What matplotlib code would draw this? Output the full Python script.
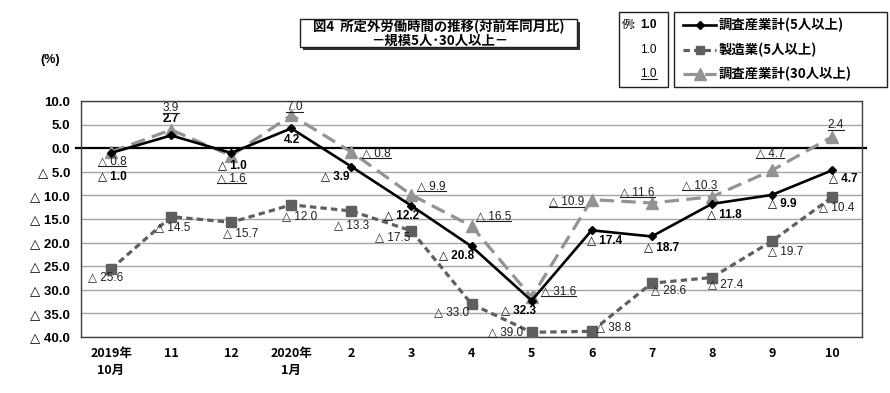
import matplotlib
matplotlib.use("Agg")
import matplotlib.pyplot as plt
from matplotlib.lines import Line2D
from matplotlib.patches import Rectangle
from matplotlib.transforms import IdentityTransform

# ---------------- data ----------------
months = ["2019年\n10月", "11", "12", "2020年\n1月", "2", "3", "4", "5", "6", "7", "8", "9", "10"]
total5 = [-1.0, 2.7, -1.0, 4.2, -3.9, -12.2, -20.8, -32.3, -17.4, -18.7, -11.8, -9.9, -4.7]
manuf5 = [-25.6, -14.5, -15.7, -12.0, -13.3, -17.5, -33.0, -39.0, -38.8, -28.6, -27.4, -19.7, -10.4]
total30 = [-0.8, 3.9, -1.6, 7.0, -0.8, -9.9, -16.5, -31.6, -10.9, -11.6, -10.3, -4.7, 2.4]
yticks = [10, 5, 0, -5, -10, -15, -20, -25, -30, -35, -40]
series_names = ["調査産業計(5人以上)", "製造業(5人以上)", "調査産業計(30人以上)"]
title1 = "図4  所定外労働時間の推移(対前年同月比)"
title2 = "－規模5人･30人以上－"

# label offsets in pixels (dx, dy) - layout only
off_total5 = [(1, -23), (0, 16), (1, -12), (1, -12), (-16, -10), (-10, -9), (-15, -9),
              (-13, -10), (13, -10), (10, -11), (13, -10), (10, -8), (11, -8)]
off_manuf5 = [(-5, -8), (2, -11), (9, -11), (8, -11), (0, -14), (-19, -6), (-20, -8),
              (-26, 0), (22, 4), (17, -7), (14, -7), (14, -10), (5, -10)]
off_total30 = [(1, -9), (0, 22), (0, -22), (3, 8), (25, -1), (20, 9), (22, 10),
               (27, 6), (-25, -2), (-14, 11), (-12, 12), (-2, 17), (4, 12)]

W, H = 890, 393
fig = plt.figure(figsize=(W / 100, H / 100), dpi=100)
fig.patch.set_facecolor("white")

JP = ["Noto Sans CJK JP", "DejaVu Sans"]
SANS = ["Liberation Sans", "DejaVu Sans"]
NARROW = ["Liberation Sans Narrow", "Liberation Sans", "DejaVu Sans"]

def fx(px):
    return px / W

def fy(py):
    return 1 - py / H

ax = fig.add_axes([fx(81), fy(337), fx(862) - fx(81), fy(101) - fy(337)])
x = list(range(len(months)))

ax.set_xlim(-0.5, len(months) - 0.5)
ax.set_ylim(-40, 10)
ax.set_yticks(yticks)

def fmt(v):
    return f"△ {abs(v):.1f}" if v < 0 else f"{v:.1f}"

ax.set_yticklabels([fmt(v) for v in yticks], family=SANS, fontweight="bold", fontsize=9.5)
ax.set_xticks(x)
ax.set_xticklabels(months, family=JP, fontweight="bold", fontsize=9, linespacing=1.4,
                   va="top")
ax.tick_params(axis="both", length=0)
ax.tick_params(axis="y", pad=8)
ax.tick_params(axis="x", pad=7)

for v in yticks:
    if v != 0:
        ax.axhline(v, color="#a6a6a6", lw=1.0, zorder=1)
ax.axhline(0, xmin=-0.0065, xmax=1.005, color="black", lw=1.6, clip_on=False, zorder=2)
for s in ax.spines.values():
    s.set_color("#404040")
    s.set_linewidth(1.0)

c_tot = "black"
c_man = "#5f5f5f"
c_30 = "#939393"

ax.plot(x, manuf5, color=c_man, lw=2.3, dashes=(2.0, 1.3), marker="s", ms=6.5,
        mfc=c_man, mec=c_man, zorder=3)
ax.plot(x, total30, color=c_30, lw=2.3, dashes=(4.5, 2.3), marker="^", ms=8,
        mfc=c_30, mec=c_30, zorder=4)
ax.plot(x, total5, color=c_tot, lw=1.9, marker="D", ms=4.5, mfc=c_tot, mec=c_tot, zorder=5)

under_texts = []
for i in x:
    ax.annotate(fmt(total5[i]), (i, total5[i]), xytext=off_total5[i], textcoords="offset pixels",
                ha="center", va="center", fontsize=8.5, fontweight="bold", family=SANS, zorder=6)
    ax.annotate(fmt(manuf5[i]), (i, manuf5[i]), xytext=off_manuf5[i], textcoords="offset pixels",
                ha="center", va="center", fontsize=8.5, family=NARROW, color="#202020", zorder=6)
    t = ax.annotate(fmt(total30[i]), (i, total30[i]), xytext=off_total30[i], textcoords="offset pixels",
                    ha="center", va="center", fontsize=8.5, family=NARROW, color="#202020", zorder=6)
    under_texts.append(t)

# (%)
fig.text(fx(50), fy(60), "(%)", ha="center", va="center", fontsize=9, fontweight="bold", family=SANS)

# title box with shadow
fig.add_artist(Rectangle((fx(303), fy(50)), fx(577) - fx(300), fy(19) - fy(47),
                         transform=fig.transFigure, facecolor="#303030", edgecolor="none"))
fig.add_artist(Rectangle((fx(300), fy(47)), fx(577) - fx(300), fy(19) - fy(47),
                         transform=fig.transFigure, facecolor="white", edgecolor="#202020", lw=1))
fig.text(fx(439), fy(27), title1, ha="center", va="center", fontsize=9.6, fontweight="bold", family=JP)
fig.text(fx(440), fy(41), title2, ha="center", va="center", fontsize=9.6, fontweight="bold", family=JP)

# example box
fig.add_artist(Rectangle((fx(619), fy(87)), fx(668) - fx(619), fy(12) - fy(87),
                         transform=fig.transFigure, facecolor="white", edgecolor="#202020", lw=1))
fig.text(fx(622), fy(25), "例:", ha="left", va="center", fontsize=8, family=JP)
fig.text(fx(657), fy(25), "1.0", ha="right", va="center", fontsize=8.5, fontweight="bold", family=SANS)
fig.text(fx(657), fy(50), "1.0", ha="right", va="center", fontsize=8.5, family=NARROW)
ex3 = fig.text(fx(657), fy(74), "1.0", ha="right", va="center", fontsize=8.5, family=NARROW)
under_texts.append(ex3)

# legend box
fig.add_artist(Rectangle((fx(674), fy(87)), fx(887) - fx(674), fy(12) - fy(87),
                         transform=fig.transFigure, facecolor="white", edgecolor="#202020", lw=1))
leg_styles = [
    dict(color=c_tot, lw=1.9, marker="D", ms=4.5),
    dict(color=c_man, lw=2.3, dashes=(2.0, 1.3), marker="s", ms=6),
    dict(color=c_30, lw=2.3, dashes=(4.5, 2.3), marker="^", ms=8),
]
for k, (name, st) in enumerate(zip(series_names, leg_styles)):
    yy = [25, 50, 74][k]
    ln = Line2D([fx(683), fx(716)], [fy(yy), fy(yy)], transform=fig.transFigure, **st)
    ln.set_markevery([])
    fig.add_artist(ln)
    fig.add_artist(Line2D([fx(699.5)], [fy(yy)], transform=fig.transFigure, ls="none",
                          marker=st["marker"], ms=st["ms"], color=st["color"]))
    fig.text(fx(719), fy(yy), name, ha="left", va="center", fontsize=9.6, fontweight="bold", family=JP)

# underline
fig.canvas.draw()
r = fig.canvas.get_renderer()
for t in under_texts:
    bb = t.get_window_extent(r)
    fig.add_artist(Line2D([bb.x0, bb.x1], [bb.y0 + 1, bb.y0 + 1], transform=IdentityTransform(),
                          color="#202020", lw=0.8))

fig.savefig("out.png", dpi=100, facecolor="white")
